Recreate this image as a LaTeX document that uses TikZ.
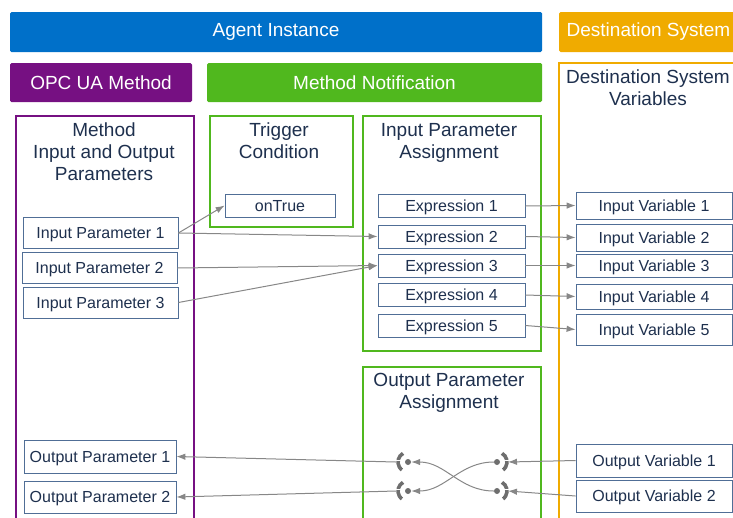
\documentclass[tikz,border=0pt]{standalone}
\usepackage{fontspec}
\setmainfont{Liberation Sans}
\usepackage{tikz}
\usetikzlibrary{arrows.meta}

\definecolor{agentblue}{RGB}{0,112,201}
\definecolor{destorange}{RGB}{240,171,0}
\definecolor{opcpurple}{RGB}{118,16,130}
\definecolor{notegreen}{RGB}{80,184,30}
\definecolor{inkblue}{RGB}{30,48,78}
\definecolor{boxblue}{RGB}{80,110,150}
\definecolor{linkgray}{RGB}{135,135,135}
\definecolor{pluggray}{RGB}{110,110,110}

\begin{document}
\begin{tikzpicture}[x=1pt,y=-1pt,
  bar/.style={fill=#1, text=white, rounded corners=1.5pt, inner sep=0pt,
    font=\fontsize{19}{22}\selectfont},
  frame/.style={draw=#1, line width=2.8pt},
  heading/.style={text=inkblue, align=center, anchor=north, inner sep=0pt,
    font=\fontsize{19}{22}\selectfont},
  item/.style={draw=boxblue, fill=white, text=inkblue, line width=0.8pt,
    inner sep=0pt, text depth=0pt, font=\fontsize{16}{18}\selectfont},
  param/.style={item, minimum width=155, minimum height=31},
  expr/.style={item, minimum width=147, minimum height=23},
  var/.style={item, minimum width=156, minimum height=27},
  link/.style={draw=linkgray, line width=1pt, -{Latex[length=9pt,width=6.5pt]}},
  plug/.style={circle, fill=pluggray, inner sep=0pt, minimum size=6pt},
  cup/.style={draw=pluggray, line width=3.6pt,
    dash pattern=on 8.3pt off 1.2pt on 10pt}]
\useasboundingbox (0,0) rectangle (733,517);

% header bars
\node[bar=agentblue, minimum width=532, minimum height=40] (agent) at (276,32) {Agent Instance};
\node[bar=destorange, minimum width=179, minimum height=40] (dest) at (648.5,32) {Destination System};
\node[bar=opcpurple, minimum width=182, minimum height=39] (opc) at (101,82.5) {OPC UA Method};
\node[bar=notegreen, minimum width=335, minimum height=39] (notify) at (374.5,82.5) {Method Notification};

% column frames
\draw[frame=destorange, line width=2pt] (559,63) rectangle (760,540);
\draw[frame=opcpurple] (16,116) rectangle (194,540);
\draw[frame=notegreen] (210,116) rectangle (353,227);
\draw[frame=notegreen] (363,116) rectangle (541,351);
\draw[frame=notegreen] (363,367) rectangle (541,540);

\node[heading] (destvars) at (648,70) {Destination System\\Variables};
\node[heading] (params) at (104,123) {Method\\Input and Output\\Parameters};
\node[heading] (trigger) at (279,123) {Trigger\\Condition};
\node[heading] (inassign) at (449,123) {Input Parameter\\Assignment};
\node[heading] (outassign) at (449,373) {Output Parameter\\Assignment};

% method parameters
\node[param] (ip1) at (100.5,233) {Input Parameter 1};
\node[param] (ip2) at (99.5,268) {Input Parameter 2};
\node[param] (ip3) at (100.5,302.5) {Input Parameter 3};
\node[param, minimum width=152, minimum height=33] (op1) at (100,456.5) {Output Parameter 1};
\node[param, minimum width=152, minimum height=32] (op2) at (100,497) {Output Parameter 2};

\node[expr, minimum width=110] (ontrue) at (280,205.5) {onTrue};

% expressions
\node[expr] (e1) at (451.5,206) {Expression 1};
\node[expr] (e2) at (451.5,236.5) {Expression 2};
\node[expr] (e3) at (451.5,265.5) {Expression 3};
\node[expr] (e4) at (451.5,295) {Expression 4};
\node[expr] (e5) at (451.5,325.5) {Expression 5};

% destination variables
\node[var] (iv1) at (654,205.5) {Input Variable 1};
\node[var] (iv2) at (654,237.5) {Input Variable 2};
\node[var, minimum height=23] (iv3) at (654,265.5) {Input Variable 3};
\node[var, minimum height=25] (iv4) at (654,296.5) {Input Variable 4};
\node[var, minimum height=31] (iv5) at (654,329.5) {Input Variable 5};
\node[var, minimum height=33] (ov1) at (654,460.5) {Output Variable 1};
\node[var, minimum height=32] (ov2) at (654,496) {Output Variable 2};

% input wiring
\draw[link] (ip1.east) -- (ontrue.west);
\draw[link] (ip1.east) -- (e2.west);
\draw[link] (ip2.east) -- (e3.west);
\draw[link] (ip3.east) -- (e3.west);
\foreach \i in {1,...,5}
  \draw[link] (e\i.east) -- (iv\i.west);

% output sockets
\node[plug] (ol1) at (408,462) {};
\node[plug] (ol2) at (408,491) {};
\node[plug] (or1) at (497,462) {};
\node[plug] (or2) at (497,491) {};
\foreach \s in {ol1,ol2}
  \draw[cup] (\s.center) ++(120:10pt) arc[start angle=120, end angle=240, radius=10pt];
\foreach \s in {or1,or2}
  \draw[cup] (\s.center) ++(60:10pt) arc[start angle=60, end angle=-60, radius=10pt];

% output wiring
\draw[link] (ov1.west) -- ([xshift=11pt]or1.center);
\draw[link] (ov2.west) -- ([xshift=11pt]or2.center);
\draw[link] (or1.west) to[out=180, in=0] (ol2.east);
\draw[link] (or2.west) to[out=180, in=0] (ol1.east);
\draw[link] ([xshift=-12pt]ol1.center) -- (op1.east);
\draw[link] ([xshift=-12pt]ol2.center) -- (op2.east);
\end{tikzpicture}
\end{document}
